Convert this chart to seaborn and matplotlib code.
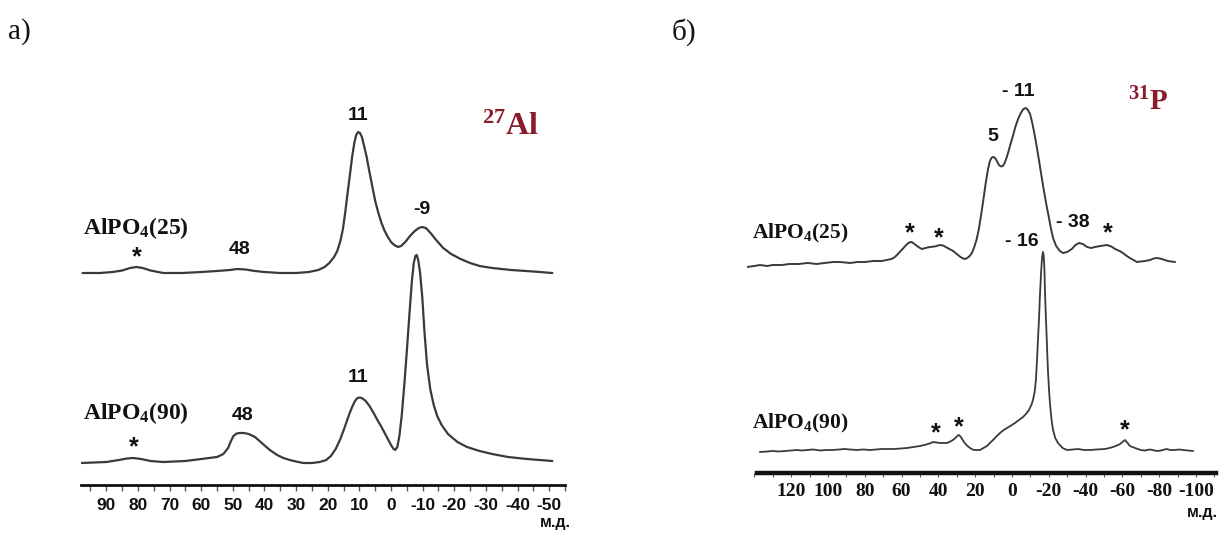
import numpy as np
import pandas as pd
import matplotlib
matplotlib.use("Agg")
import matplotlib.pyplot as plt
import seaborn as sns
from matplotlib.ticker import MultipleLocator

# ---------------- data ----------------
# 27Al spectra: chemical shift (ppm) and intensity (arb. units)
al25_ppm = [97.5, 92, 88, 85, 82.5, 80.5, 78.5, 76, 72, 66, 60, 55, 51, 48.5, 46, 43, 40,
            35, 30, 26, 23, 21, 19.5, 18, 17, 16, 15.2, 14.5, 13.8, 13, 12.3, 11.6, 11,
            10.4, 9.8, 9.2, 8.5, 7.7, 7, 6, 5, 4, 3, 2, 1, 0, -1, -2.2, -3.2, -4.5, -6,
            -7.5, -8.8, -9.8, -11, -12.5, -14, -16.5, -19, -22, -25, -28, -32, -38, -45,
            -51]
al25_int = [0, 0, 1, 2.5, 5, 6, 5, 2.5, 0, 0, 1, 2, 3, 4, 3.5, 2, 1,
            0, 0, 1, 3, 6, 10, 16, 22, 32, 44, 60, 78, 98, 116, 130, 138,
            141, 140, 136, 127, 116, 104, 88, 72, 60, 50, 42, 36, 31, 28, 26, 27, 31, 37,
            42, 45, 46, 45, 40, 34, 25, 19, 14, 10, 7, 5, 3, 1.5,
            0]

al90_ppm = [97.8, 90, 86, 83.5, 81.5, 79, 76, 72, 65, 60, 55, 53, 51.5, 50.6, 49.8, 48.8,
            47.8, 46.5, 45, 43, 40.5, 38.3, 36, 34, 32, 30, 27.8, 25, 22.5, 20.5, 19,
            17.5, 16, 14.5, 13.3, 12.3, 11.4, 10.6, 9.8, 9, 8, 6.8, 5.5, 4.3, 3, 2, 1,
            0, -0.7, -1.3, -2, -2.7, -3.4, -4.2, -5, -5.8, -6.6, -7.2, -7.7, -8.1, -8.6,
            -9.2, -9.9, -10.6, -11.4, -12.4, -13.5, -14.6, -16, -18, -21, -24, -28, -32,
            -37, -43, -51]
al90_int = [0, 1, 3, 4.5, 5, 4, 2, 1, 2, 4, 6, 9, 15, 22, 27, 29.5,
            30, 30, 29, 26, 19, 13, 8, 5, 3, 1.5, 0, 0, 1, 3, 7,
            14, 24, 37, 48, 56, 62, 65, 65.5, 64.5, 62, 57, 50, 43, 36, 30, 24,
            18, 14.5, 13, 16, 28, 48, 78, 112, 148, 182, 200, 207, 208, 203,
            190, 165, 130, 98, 74, 58, 47, 38, 29, 21, 16, 12, 9,
            6, 4, 2]

# 31P spectra
p25_ppm = [144, 140, 137, 133, 130, 125, 121, 116, 111, 106, 102, 97, 93.5, 88, 84, 80,
           75.5, 71, 68, 65.5, 63.6, 62, 60.5, 59, 57.5, 56, 54.5, 53, 51.6, 50, 48.9,
           47, 44.6, 42, 39.1, 37.5, 36, 34, 32, 30, 28, 26.5, 25.5, 24.3, 23, 21.8,
           20.5, 19.3, 18, 16.8, 15.5, 14.2, 13, 12, 11, 10, 9.2, 8.2, 7.1, 6, 5, 4, 3,
           2, 0.8, -0.5, -1.8, -3.3, -4.8, -6.2, -7.5, -8.7, -9.8, -10.9, -12, -13,
           -14.2, -15.5, -17, -18.5, -20, -21.2, -22.5, -24, -26, -27.7, -30, -32.5,
           -34.5, -36.5, -38.5, -40.8, -43, -45.1, -48, -51.6, -54, -56, -58.5, -60.3,
           -62, -64.1, -66, -67.9, -70, -72.3, -75, -77, -78.8, -81.5, -83, -84.8,
           -86.5, -88.6]
p25_int = [-5, -4, -3, -4, -3, -3, -2, -2, -1, -2, -1, 0, 0, -1, 0, 0,
           1, 1, 2, 3, 5, 8, 11, 14, 17, 19.5, 20, 18, 16, 14, 13,
           14, 15, 15.5, 17, 16.5, 15, 13, 11, 8, 5, 3.5, 3, 4, 6, 9,
           15, 22, 33, 47, 63, 80, 93, 101, 104.5, 105, 104, 101, 97, 95.5, 96, 99, 104,
           110, 118, 126, 135, 143, 149, 153, 154, 152, 148, 140, 130, 120,
           107, 92, 75, 59, 45, 33, 23, 16, 11, 9, 10, 13,
           17, 19, 18, 15, 14, 15, 16, 17, 15.5, 13, 11, 9,
           6.5, 4, 2, 0, 0.5, 1, 2, 3.5, 4, 3, 2, 1,
           0.5, 0]

p90_ppm = [137, 133, 130, 127, 123.4, 120, 117, 114, 111.4, 108, 104, 101, 97.8, 94, 91,
           88, 84.2, 81, 77, 74, 70.7, 67, 64, 60.5, 57.1, 53.5, 50, 46.5, 44, 42.9,
           41, 39.1, 37, 35.3, 33.5, 32.1, 30.5, 29.5, 28.8, 27.8, 26.1, 24.5, 22.8,
           21.5, 20.1, 18.8, 17.4, 15.5, 13.6, 12, 10.3, 8.5, 6.5, 4.5, 2.7, 0.5, -1.6,
           -3.8, -6, -7.8, -9.2, -10.5, -11.4, -12.3, -13, -13.6, -14.1, -14.7, -15.2,
           -15.8, -16.3, -16.8, -17.2, -17.6, -17.9, -18.3, -18.8, -19.2, -19.6, -20.2,
           -20.7, -21.5, -22.3, -23.5, -25, -27.5, -29.9, -33, -36, -39, -42.4, -46,
           -50.5, -53, -54.9, -57, -58.7, -60, -61.4, -62.8, -64.1, -65.5, -66.8, -70,
           -72, -75, -78.8, -81, -84, -86, -88.6, -91, -93, -95.5, -98.4]
p90_int = [-2, -1.5, -1, -1.5, -1, -0.5, 0, -0.5, 0, 0.5, -0.5, 0, 0, 0.5, 1,
           0.5, 0, 0.5, 0, 0.5, 1, 1, 1, 1.5, 2, 3, 4, 5.5, 7, 8,
           7.5, 7, 7, 7, 8.5, 10, 12.5, 14.5, 15, 13, 8, 4.5, 2,
           0.5, 0, 0, 0, 2, 4, 7, 10, 13.5, 17, 20, 22, 24.5, 27,
           30, 33, 36.5, 40, 45, 50, 58, 70, 90, 110, 132, 155,
           177, 192, 198, 195, 182, 160, 138, 115, 95, 77, 58,
           45, 30, 20, 12, 7, 2, 0, 0.5, 1, 0, 0, 0.5,
           1, 2, 3, 4.5, 6, 8, 10, 7, 4, 3, 2, 0,
           -0.5, 0.5, -1, -0.5, 1, 0, 0, 0.5, 0, -0.5, -1]

samples = ["AlPO$_\\mathrm{4}$(25)", "AlPO$_\\mathrm{4}$(90)"]
al_ticks = [90, 80, 70, 60, 50, 40, 30, 20, 10, 0, -10, -20, -30, -40, -50]
p_ticks = [120, 100, 80, 60, 40, 20, 0, -20, -40, -60, -80, -100]

# ---------------- figure ----------------
sns.set_theme(style="white")
plt.rcParams["font.family"] = ["DejaVu Sans"]
plt.rcParams["mathtext.fontset"] = "custom"
plt.rcParams["mathtext.rm"] = "Liberation Serif:bold"
plt.rcParams["mathtext.it"] = "Liberation Serif:bold"
plt.rcParams["mathtext.bf"] = "Liberation Serif:bold"

W, H = 1225, 539
fig = plt.figure(figsize=(W / 100, H / 100), dpi=100)

def ax_rect(x0, x1, ytop, ybot):
    return [x0 / W, 1 - ybot / H, (x1 - x0) / W, (ybot - ytop) / H]

axL = fig.add_axes(ax_rect(81, 565, 90, 485))
axR = fig.add_axes(ax_rect(747, 1217, 60, 473))

LC = "#3a3a3a"
RED = "#8b1a2b"
SERIF = "Liberation Serif"
SANS = "Liberation Sans"

def draw(ax, ppm, inten, offset, lw):
    df = pd.DataFrame({"ppm": ppm, "I": np.array(inten, float) + offset})
    sns.lineplot(data=df, x="ppm", y="I", ax=ax, color=LC, lw=lw, sort=False,
                 estimator=None)

# left panel
draw(axL, al25_ppm, al25_int, 212, 1.6)
draw(axL, al90_ppm, al90_int, 22, 1.6)
axL.set_xlim(98, -55)
axL.set_ylim(0, 395)
# right panel
draw(axR, p25_ppm, p25_int, 211, 1.4)
draw(axR, p90_ppm, p90_int, 23, 1.3)
axR.set_xlim(144, -111.4)
axR.set_ylim(0, 413)

for ax, lw in ((axL, 2.0), (axR, 3.2)):
    for s in ("left", "right", "top"):
        ax.spines[s].set_visible(False)
    ax.spines["bottom"].set_color("#111111")
    ax.spines["bottom"].set_linewidth(lw)
    ax.set_yticks([])
    ax.set_xlabel("")
    ax.set_ylabel("")
    ax.patch.set_alpha(0)
axR.spines["bottom"].set_bounds(138.6, -111)

axL.set_xticks(al_ticks)
axL.set_xticklabels([str(t) for t in al_ticks], fontfamily=SANS,
                    fontweight="bold", fontsize=12.5, color="#111111")
axL.xaxis.set_minor_locator(MultipleLocator(5))
axL.tick_params(axis="x", which="both", direction="out", bottom=True,
                length=4, width=1, color="#555555", pad=5)

axR.set_xticks(p_ticks)
axR.set_xticklabels([str(t) for t in p_ticks], fontfamily=SERIF,
                    fontweight="bold", fontsize=14, color="#111111")
axR.xaxis.set_minor_locator(MultipleLocator(10))
axR.tick_params(axis="x", which="both", direction="out", bottom=True,
                length=3, width=0.8, color="#555555", pad=4)

# annotations
def lab(ax, x, y, s, size=14, ha="center"):
    ax.text(x, y, s, ha=ha, va="center", fontfamily=SANS, fontweight="bold",
            fontsize=size, color="#111111")

def star(ax, x, y):
    ax.text(x, y, "*", ha="center", va="center", fontfamily=SANS,
            fontweight="bold", fontsize=18, color="#111111")

# left
lab(axL, 10.4, 370, "11")
lab(axL, -9.8, 275, "-9")
lab(axL, 47.8, 235, "48")
star(axL, 80.4, 228)
lab(axL, 10.4, 107, "11")
lab(axL, 46.8, 70, "48")
star(axL, 81.3, 38)
axL.text(97.5, 257, samples[0], ha="left", va="center", fontfamily=SERIF,
         fontweight="bold", fontsize=17, color="#111111")
axL.text(97.5, 72, samples[1], ha="left", va="center", fontfamily=SERIF,
         fontweight="bold", fontsize=17, color="#111111")
axL.text(-28.8, 358, "$^{27}$Al", ha="left", va="center", fontfamily=SERIF,
         fontweight="bold", fontsize=23, color=RED)

# right
lab(axR, -3.3, 381, "- 11")
lab(axR, 10.3, 336, "5")
star(axR, 55.4, 240)
star(axR, 39.7, 235)
lab(axR, -33.2, 250, "- 38")
star(axR, -52.2, 240)
lab(axR, -5.4, 231, "- 16")
star(axR, 41.3, 40)
star(axR, 28.8, 46)
star(axR, -61.4, 43)
axR.text(141.3, 240, samples[0], ha="left", va="center", fontfamily=SERIF,
         fontweight="bold", fontsize=15.5, color="#111111")
axR.text(141.3, 50, samples[1], ha="left", va="center", fontfamily=SERIF,
         fontweight="bold", fontsize=15.5, color="#111111")
axR.text(-63, 371, "$^{31}$P", ha="left", va="center", fontfamily=SERIF,
         fontweight="bold", fontsize=21, color=RED)

# panel letters and unit labels
fig.text(8 / W, 1 - 32 / H, "а)", ha="left", va="center", fontfamily=SERIF,
         fontsize=21, color="#111111")
fig.text(672 / W, 1 - 32 / H, "б)", ha="left", va="center", fontfamily=SERIF,
         fontsize=21, color="#111111")
fig.text(555 / W, 1 - 522 / H, "м.д.", ha="center", va="center", fontfamily=SANS,
         fontweight="bold", fontsize=11.5, color="#111111")
fig.text(1202 / W, 1 - 513 / H, "м.д.", ha="center", va="center", fontfamily=SANS,
         fontweight="bold", fontsize=11.5, color="#111111")

fig.savefig("out.png", dpi=100)
